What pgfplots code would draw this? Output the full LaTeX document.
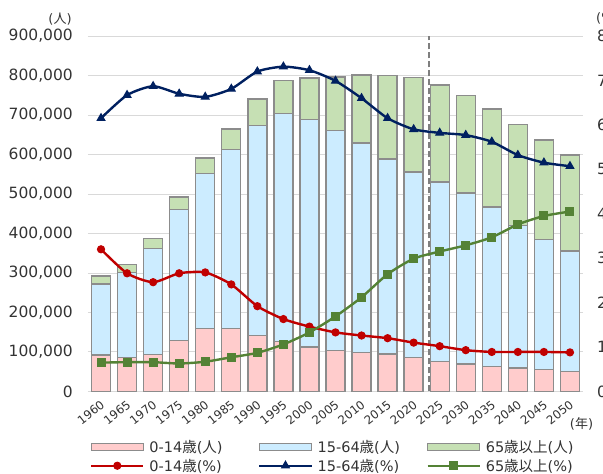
\documentclass[border=0pt]{standalone}
\usepackage{pgfplots}
\pgfplotsset{compat=1.18}
\usepackage{pgfplotstable}
\usepackage{fontspec}
\setmainfont{DejaVu Sans}
\newfontfamily\jpfont{Noto Sans CJK JP}
\newcommand{\ja}[1]{{\jpfont #1}}

\definecolor{kidfill}{HTML}{FFCCCC}
\definecolor{workfill}{HTML}{CCECFF}
\definecolor{oldfill}{HTML}{C6E0B4}
\definecolor{barline}{HTML}{8C8C8C}
\definecolor{kidline}{HTML}{C00000}
\definecolor{workline}{HTML}{002060}
\definecolor{oldline}{HTML}{548235}
\definecolor{gridgray}{HTML}{D9D9D9}
\definecolor{dashgray}{HTML}{7F7F7F}
\definecolor{txt}{HTML}{333333}

% idx: 0=1960 ... 18=2050
\pgfplotstableread{
x p0 p15 p65 c0 c15 c65
0 92500 180100 19400 32.0 61.5 6.5
1 85700 216300 19600 26.6 66.7 6.6
2 94300 267000 25400 24.6 68.7 6.6
3 129800 330400 32200 26.6 67.0 6.3
4 159300 392100 39900 26.8 66.3 6.7
5 160200 452100 52500 24.1 68.1 7.7
6 141500 532500 66800 19.2 72.0 8.7
7 126300 577300 83700 16.3 73.1 10.6
8 112800 575600 104800 14.6 72.3 13.3
9 104400 556100 136000 13.3 69.9 16.9
10 98400 530900 171500 12.6 66.0 21.2
11 95100 493600 211300 12.0 61.5 26.4
12 86700 469000 239200 11.0 59.0 29.9
13 76500 453900 245900 10.2 58.2 31.5
14 69700 432800 246700 9.3 57.7 32.9
15 62900 404100 248500 8.9 56.2 34.7
16 59600 360000 256100 8.9 53.2 37.6
17 56300 327800 252800 8.9 51.5 39.5
18 51200 305000 242700 8.8 50.7 40.5
}\popdata

\pgfplotsset{
  barleg/.style={legend image code/.code={\draw[##1] (0pt,-3.5pt) rectangle (52pt,3.5pt);}},
  lineleg/.style={legend image code/.code={\draw[mark repeat=2,mark phase=2,##1,line width=2.2pt] plot coordinates {(0pt,0pt) (26pt,0pt) (52pt,0pt)};}},
  common/.style={
    at={(88pt,82.5pt)}, anchor=south west,
    width=495pt, height=355.5pt, scale only axis,
    xmin=-0.5, xmax=18.5, enlargelimits=false,
    axis line style={draw=none}, major tick length=0pt,
    /pgf/number format/assume math mode=true,
    tick label style={text=txt},
  },
}

\begin{document}
\begin{tikzpicture}[x=1pt,y=1pt]
\begin{axis}[common,
  ymin=0, ymax=900000,
  ybar stacked, bar width=19pt,
  xtick={0,...,18},
  xticklabels={1960,1965,1970,1975,1980,1985,1990,1995,2000,2005,2010,2015,2020,2025,2030,2035,2040,2045,2050},
  xticklabel style={font=\fontsize{11.8}{13}\selectfont, xshift=-1pt, yshift=-8pt, rotate=38, anchor=north east, inner sep=0pt},
  ytick={0,100000,...,900000},
  scaled y ticks=false,
  yticklabel style={font=\fontsize{15.5}{17}\selectfont, /pgf/number format/1000 sep={,}, /pgf/number format/fixed, anchor=east, inner sep=0pt, xshift=-15pt},
  ymajorgrids, grid style={gridgray, line width=1pt},
]
\addplot[fill=kidfill, draw=barline, line width=1.4pt] table[x=x, y=p0] {\popdata};
\addplot[fill=workfill, draw=barline, line width=1.4pt] table[x=x, y=p15] {\popdata};
\addplot[fill=oldfill, draw=barline, line width=1.4pt] table[x=x, y=p65] {\popdata};
\end{axis}

\begin{axis}[common,
  ymin=0, ymax=80,
  axis y line*=right, xtick=\empty,
  ytick={0,10,...,80},
  yticklabel style={font=\fontsize{15.5}{17}\selectfont, anchor=west, inner sep=0pt, xshift=14pt},
  legend columns=3,
  legend style={at={(0,0)}, anchor=north west, xshift=2pt, yshift=-46pt,
    draw=none, fill=none, inner sep=0pt,
    font=\fontsize{14.5}{16}\selectfont, text=txt,
    nodes={text width=104pt, inner xsep=5pt, inner ysep=2.5pt},
    cells={anchor=west}},
]
\addplot[dashgray, line width=2pt, dash pattern=on 6pt off 3pt, forget plot] coordinates {(12.6,0) (12.6,80)};
\addlegendimage{barleg, fill=kidfill, draw=barline, line width=1.4pt}
\addlegendimage{barleg, fill=workfill, draw=barline, line width=1.4pt}
\addlegendimage{barleg, fill=oldfill, draw=barline, line width=1.4pt}
\addplot[lineleg, kidline, line width=2.4pt, smooth, tension=0.4, mark=*, mark size=3.6pt, mark options={solid, fill=kidline, line width=1pt}] table[x=x, y=c0] {\popdata};
\addplot[lineleg, workline, line width=2.4pt, smooth, tension=0.4, mark=triangle*, mark size=4.5pt, mark options={solid, fill=workline, line width=1pt}] table[x=x, y=c15] {\popdata};
\addplot[lineleg, oldline, line width=2.4pt, smooth, tension=0.4, mark=square*, mark size=4pt, mark options={solid, fill=oldline, line width=1pt}] table[x=x, y=c65] {\popdata};
\legend{0-14\ja{歳}(\ja{人}), 15-64\ja{歳}(\ja{人}), 65\ja{歳以上}(\ja{人}), 0-14\ja{歳}(\%), 15-64\ja{歳}(\%), 65\ja{歳以上}(\%)}
\end{axis}

\node[font=\fontsize{13}{15}\selectfont, text=txt] at (60,455) {(\ja{人})};
\node[font=\fontsize{13}{15}\selectfont, text=txt] at (581.5,49.7) {(\ja{年})};
\node[font=\fontsize{13}{15}\selectfont, text=txt, anchor=west, inner sep=0pt] at (596,456) {(\%)};

\pgfresetboundingbox
\useasboundingbox (0,0) rectangle (603,474);
\end{tikzpicture}
\end{document}
